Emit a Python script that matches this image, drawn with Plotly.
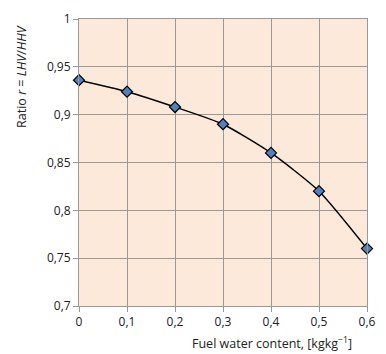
import plotly.graph_objects as go

water = [0, 0.1, 0.2, 0.3, 0.4, 0.5, 0.6]
ratio = [0.936, 0.924, 0.908, 0.890, 0.860, 0.820, 0.760]
xticks = [0, 0.1, 0.2, 0.3, 0.4, 0.5, 0.6]
xlabels = ["0", "0,1", "0,2", "0,3", "0,4", "0,5", "0,6"]
yticks = [0.7, 0.75, 0.8, 0.85, 0.9, 0.95, 1.0]
ylabels = ["0,7", "0,75", "0,8", "0,85", "0,9", "0,95", "1"]

fig = go.Figure()
fig.add_trace(go.Scatter(
    x=water, y=ratio, mode="lines+markers",
    line=dict(color="black", width=1.5, shape="spline", smoothing=0.6),
    marker=dict(symbol="diamond", size=8.5, color="#4F81BD",
                line=dict(color="black", width=1.2)),
    showlegend=False, cliponaxis=False,
))

font = dict(family="Open Sans, Liberation Sans, sans-serif", size=12, color="#222")
tfont = dict(family="Open Sans, Liberation Sans, sans-serif", size=12.5, color="#222")
fig.update_layout(
    width=386, height=354,
    margin=dict(l=79, r=10, t=15, b=48),
    paper_bgcolor="white", plot_bgcolor="#FCE9DA",
    font=font,
    xaxis=dict(range=[0, 0.6], tickvals=xticks, ticktext=xlabels,
               showgrid=True, gridcolor="#999999", gridwidth=1,
               showline=True, linecolor="#999999", mirror=True,
               ticks="outside", ticklen=5, tickcolor="#999999", zeroline=False),
    yaxis=dict(range=[0.7, 1.0], tickvals=yticks, ticktext=ylabels,
               showgrid=True, gridcolor="#999999", gridwidth=1,
               showline=True, linecolor="#999999", mirror=True,
               ticks="outside", ticklen=5, tickcolor="#999999", zeroline=False),
    annotations=[
        dict(text="Ratio <i>r</i> = <i>LHV</i>/<i>HHV</i>", xref="paper", yref="paper",
             x=-0.2, y=1.0, xanchor="center", yanchor="top", textangle=-90,
             showarrow=False, font=tfont, yshift=-4),
        dict(text="Fuel water content, [kgkg<sup>−1</sup>]", xref="paper", yref="paper",
             x=0.956, y=0, xanchor="right", yanchor="top", showarrow=False,
             font=tfont, yshift=-26),
    ],
)
fig.write_html("out.html")
